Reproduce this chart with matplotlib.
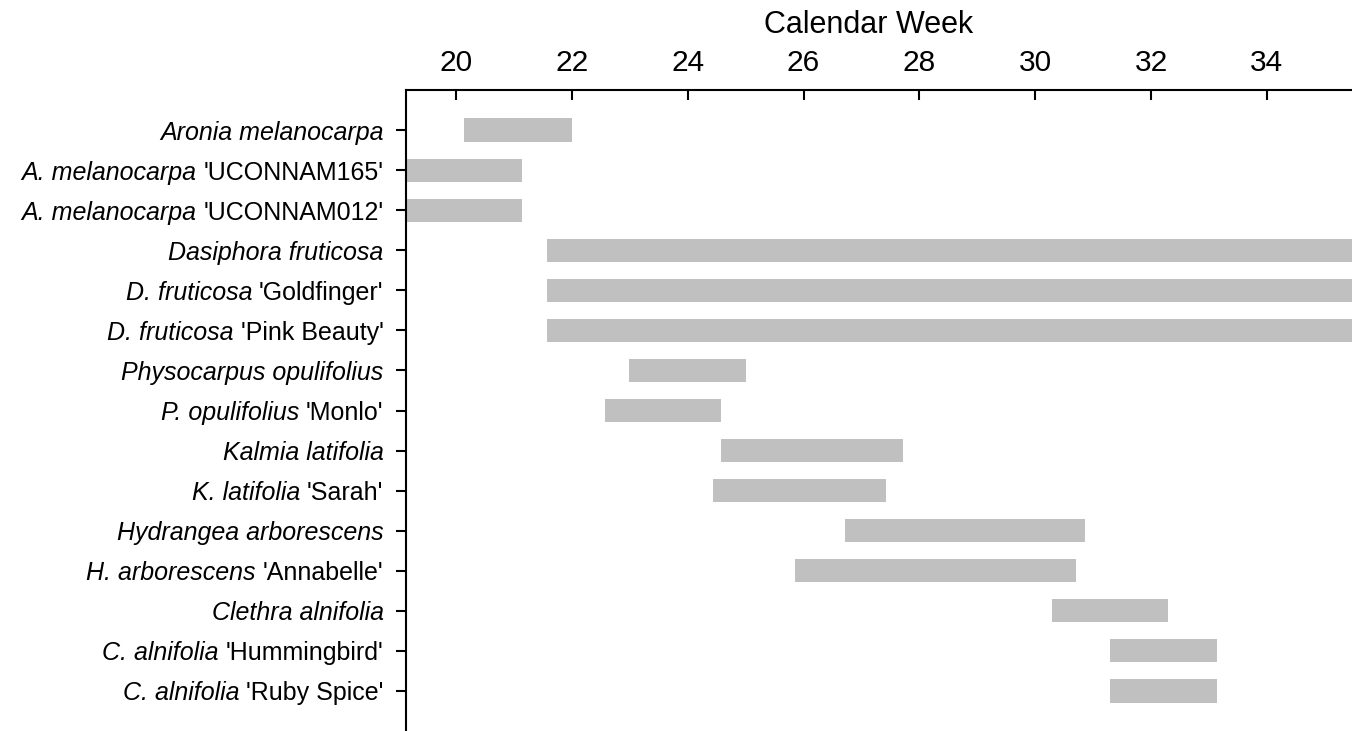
import matplotlib
matplotlib.use("Agg")
import matplotlib.pyplot as plt
from matplotlib.transforms import blended_transform_factory

plt.rcParams['font.family'] = ['Liberation Sans', 'DejaVu Sans']

# Data (calendar weeks)
species = ["Aronia melanocarpa", "A. melanocarpa", "A. melanocarpa",
           "Dasiphora fruticosa", "D. fruticosa", "D. fruticosa",
           "Physocarpus opulifolius", "P. opulifolius",
           "Kalmia latifolia", "K. latifolia",
           "Hydrangea arborescens", "H. arborescens",
           "Clethra alnifolia", "C. alnifolia", "C. alnifolia"]
cultivars = ["", "'UCONNAM165'", "'UCONNAM012'",
             "", "'Goldfinger'", "'Pink Beauty'",
             "", "'Monlo'",
             "", "'Sarah'",
             "", "'Annabelle'",
             "", "'Hummingbird'", "'Ruby Spice'"]
start_week = [20.14, 19.0, 19.0,
              21.57, 21.57, 21.57,
              22.99, 22.57,
              24.57, 24.43,
              26.71, 25.86,
              30.29, 31.29, 31.29]
end_week = [22.0, 21.14, 21.14,
            36.0, 36.0, 36.0,
            25.0, 24.57,
            27.71, 27.43,
            30.86, 30.71,
            32.29, 33.14, 33.14]
xticks = [20, 22, 24, 26, 28, 30, 32, 34]

W, H = 1352, 731
fig = plt.figure(figsize=(W / 100, H / 100), dpi=100)
ax = fig.add_axes([406 / W, 0.0, 1.0 - 406 / W, 1 - 90 / H])

ypos = list(range(len(species)))
widths = [e - s for s, e in zip(start_week, end_week)]
ax.barh(ypos, widths, left=start_week, height=0.58, color='#c0c0c0',
        edgecolor='none')

ax.set_xlim(19.136, 35.47)
ax.set_ylim(15.0, -1.0)

ax.xaxis.tick_top()
ax.set_xticks(xticks)
ax.set_xticklabels([str(t) for t in xticks])
ax.set_yticks(ypos)
ax.set_yticklabels([""] * len(ypos))

for s in ['right', 'bottom']:
    ax.spines[s].set_visible(False)
for s in ['top', 'left']:
    ax.spines[s].set_linewidth(1.5)

ax.tick_params(axis='x', direction='in', length=7.2, width=1.5,
               labelsize=21.5, pad=9.5, top=True, bottom=False)
ax.tick_params(axis='y', direction='out', length=7.2, width=1.5)

fig.text(868.5 / W, 1 - 33.3 / H, "Calendar Week", fontsize=22,
         ha='center', va='baseline')

# Mixed italic / upright y labels
fs = 18
trans = blended_transform_factory(fig.transFigure, ax.transData)
fig.canvas.draw()
renderer = fig.canvas.get_renderer()
x_right = 383.5
space_px = 0.278 * fs * 100 / 72
for y, sp, cv in zip(ypos, species, cultivars):
    x = x_right
    if cv:
        t = fig.text(x / W, y, cv, fontsize=fs, ha='right',
                     va='center_baseline', transform=trans)
        w = t.get_window_extent(renderer).width
        x = x - w - space_px
    fig.text(x / W, y, sp, fontsize=fs, style='italic', ha='right',
             va='center_baseline', transform=trans)

fig.savefig("out.png", dpi=100)
